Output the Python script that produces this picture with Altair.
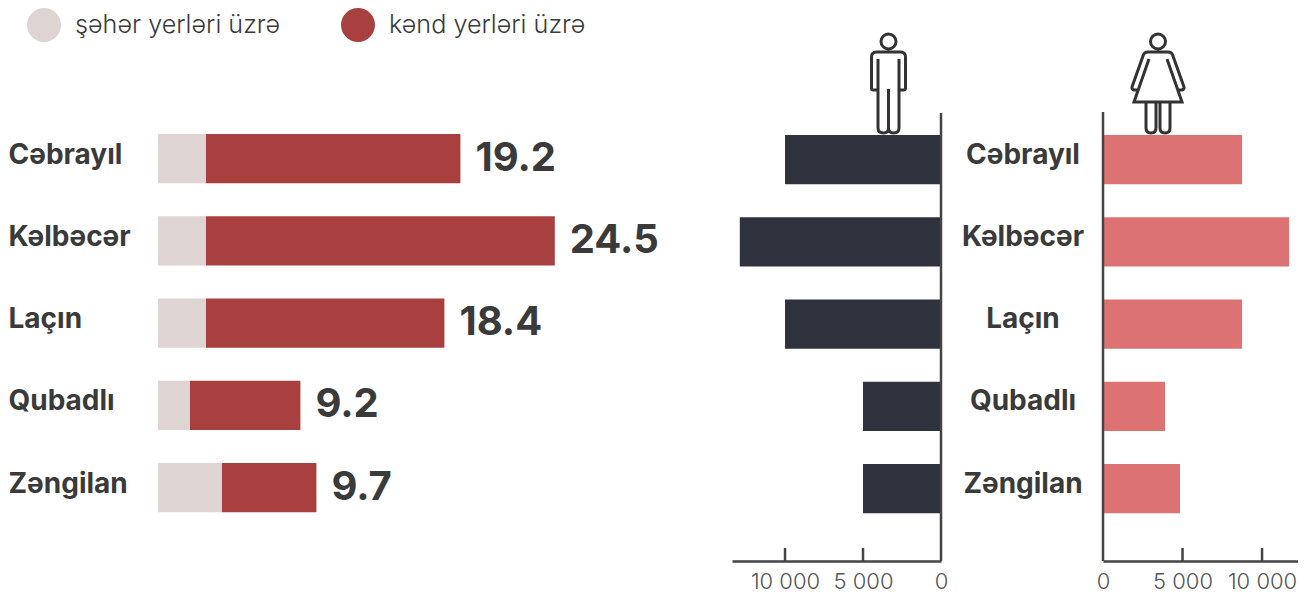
import re
import altair as alt
import pandas as pd

categories = ["Cəbrayıl", "Kəlbəcər", "Laçın", "Qubadlı", "Zəngilan"]
urban = [3.0, 3.0, 3.0, 2.0, 4.0]
rural = [15.9, 21.8, 14.9, 6.9, 5.9]
value_labels = ["19.2", "24.5", "18.4", "9.2", "9.7"]
men = [10000, 12900, 10000, 5000, 5000]
women = [8740, 11700, 8740, 3900, 4840]
ticks = [5000, 10000]
tick_labels = [0, 5000, 10000]
series_names = ["şəhər yerləri üzrə", "kənd yerləri üzrə"]

FONT = "Inter"
TEXT = "#3a3a3a"
AXIS = "#444444"
SW = 2.5


def icon(path):
    return re.sub(r"-?\d+(\.\d+)?", lambda m: f"{float(m.group(0)) / 50:.4f}", path)


HEAD = "M 0 -49 C 4.2 -49 7.5 -45.6 7.5 -41.5 C 7.5 -37.4 4.2 -34 0 -34 C -4.2 -34 -7.5 -37.4 -7.5 -41.5 C -7.5 -45.6 -4.2 -49 0 -49 Z "
MAN = icon(HEAD +
           "M -10.5 7 L -15 7 Q -17 7 -17 5 L -17 -26 Q -17 -31 -12 -31 L 12 -31 Q 17 -31 17 -26 L 17 5 Q 17 7 15 7 L 10.5 7 "
           "M -10.5 -24 L -10.5 45 Q -10.5 50 -5 50 Q 0 50 0 45 Q 0 50 5 50 Q 10.5 50 10.5 45 L 10.5 -24 "
           "M 0 6 L 0 45")
WOMAN = icon(HEAD +
             "M -21 7 L -24 7 Q -26.5 6 -26 4 L -15 -27 Q -14 -31 -10 -31 L 10 -31 Q 14 -31 15 -27 L 26 4 Q 26.5 6 24 7 L 21 7 "
             "M -9 -24 L -24 19 L 24 19 L 9 -24 "
             "M -12 19 L -12 45 Q -12 50 -7 50 Q -2 50 -2 45 L -2 19 "
             "M 12 19 L 12 45 Q 12 50 7 50 Q 2 50 2 45 L 2 19")

long_rows = []
for i, c in enumerate(categories):
    long_rows.append({"cat": c, "series": series_names[0], "v": urban[i], "o": 0})
    long_rows.append({"cat": c, "series": series_names[1], "v": rural[i], "o": 1})
stack_df = pd.DataFrame(long_rows)
total_df = pd.DataFrame({"cat": categories, "total": [u + r for u, r in zip(urban, rural)], "label": value_labels})
men_df = pd.DataFrame({"cat": categories, "v": men})
women_df = pd.DataFrame({"cat": categories, "v": women})
tick_df = pd.DataFrame({"v": ticks})

H = 553
band_left = alt.Scale(domain=categories, range=[109.5, 520.75], paddingInner=0.4, paddingOuter=0.2)
band_right = alt.Scale(domain=categories, range=[110.5, 521.75], paddingInner=0.4, paddingOuter=0.2)

# left panel
xa = alt.Scale(domain=[0, 35.875], range=[150, 724], nice=False, zero=False)
bars = alt.Chart(stack_df).mark_bar(strokeWidth=0).encode(
    x=alt.X("v:Q", scale=xa, axis=None, stack="zero"),
    y=alt.Y("cat:N", scale=band_left, sort=categories, title=None,
            axis=alt.Axis(orient="left", labelAlign="left", labelPadding=0, ticks=False, domain=False,
                          labelFont=FONT, labelFontWeight=700, labelFontSize=28, labelColor=TEXT,
                          labelOffset=-3, labelLimit=200)),
    color=alt.Color("series:N", scale=alt.Scale(domain=series_names, range=["#ded4d2", "#a84040"]),
                    legend=alt.Legend(orient="none", legendX=19, legendY=0, direction="horizontal", columns=2,
                                      title=None, symbolType="circle", symbolSize=1156, symbolStrokeWidth=0,
                                      symbolOpacity=1, labelOffset=14, columnPadding=60, labelFont=FONT,
                                      labelFontWeight=300, labelFontSize=25.2, labelColor=TEXT, labelLimit=300)),
    order=alt.Order("o:Q"),
)
val_text = alt.Chart(total_df).mark_text(align="left", baseline="middle", dx=15, dy=0, font=FONT, fontWeight=700,
                                         fontSize=40, color=TEXT).encode(
    x=alt.X("total:Q", scale=xa, axis=None),
    y=alt.Y("cat:N", scale=band_left, sort=categories, title=None),
    text="label:N",
)
panel_a = alt.layer(bars, val_text).properties(width=724, height=H)

tick_axis = dict(values=tick_labels, ticks=False, grid=False, domainColor=AXIS, domainWidth=SW, labelFont=FONT,
                 labelFontWeight=300, labelFontSize=22, labelColor="#555555", labelPadding=10, labelFlush=False,
                 labelOverlap=False, labelBound=False, title=None,
                 labelExpr="replace(format(datum.value, ','), ',', ' ')")

# men panel
xb = alt.Scale(domain=[13400, 0], nice=False, zero=False)
men_bars = alt.Chart(men_df).mark_bar(color="#2d323c").encode(
    x=alt.X("v:Q", scale=xb, axis=alt.Axis(**tick_axis)),
    y=alt.Y("cat:N", scale=band_right, sort=categories, axis=None),
)
men_ticks = alt.Chart(tick_df).mark_rule(color=AXIS, strokeWidth=SW).encode(
    x=alt.X("v:Q", scale=xb), y=alt.value(540), y2=alt.value(H))
men_line = alt.Chart(pd.DataFrame({"v": [0]})).mark_rule(color=AXIS, strokeWidth=SW).encode(
    x=alt.X("v:Q", scale=xb), y=alt.value(105), y2=alt.value(H))
men_icon = alt.Chart(pd.DataFrame({"n": ["man"]})).mark_point(shape=MAN, size=10000, filled=False, color="#333333",
                                                              strokeWidth=3, opacity=1).encode(
    x=alt.value(156.5), y=alt.value(75))
panel_b = alt.layer(men_bars, men_ticks, men_line, men_icon).properties(width=209, height=H)

# women panel: the gap between the two axes lives inside this panel's scale range
xc = alt.Scale(domain=[0, 12260], range=[162, 357], nice=False, zero=False)
women_bars = alt.Chart(women_df).mark_bar(color="#dc7272").encode(
    x=alt.X("v:Q", scale=xc, axis=alt.Axis(**tick_axis)),
    y=alt.Y("cat:N", scale=band_right, sort=categories, axis=None),
)
mid_labels = alt.Chart(women_df).mark_text(align="center", baseline="middle", dy=-4, font=FONT, fontWeight=700,
                                           fontSize=28, color=TEXT).encode(
    x=alt.value(82),
    y=alt.Y("cat:N", scale=band_right, sort=categories, axis=None),
    text="cat:N",
)
women_ticks = alt.Chart(tick_df).mark_rule(color=AXIS, strokeWidth=SW).encode(
    x=alt.X("v:Q", scale=xc), y=alt.value(540), y2=alt.value(H))
women_line = alt.Chart(pd.DataFrame({"v": [0]})).mark_rule(color=AXIS, strokeWidth=SW).encode(
    x=alt.X("v:Q", scale=xc), y=alt.value(104), y2=alt.value(H))
women_icon = alt.Chart(pd.DataFrame({"n": ["woman"]})).mark_point(shape=WOMAN, size=10000, filled=False, color="#333333",
                                                                  strokeWidth=3, opacity=1).encode(
    x=alt.value(217), y=alt.value(75))
panel_c = alt.layer(women_bars, mid_labels, women_ticks, women_line, women_icon).properties(width=357, height=H)

chart = alt.hconcat(panel_a, panel_b, panel_c, spacing=0, bounds="flush").properties(
    padding=0, background="white"
).configure_view(strokeWidth=0)

chart.save("out.html", embed_options={"renderer": "svg", "actions": False})
